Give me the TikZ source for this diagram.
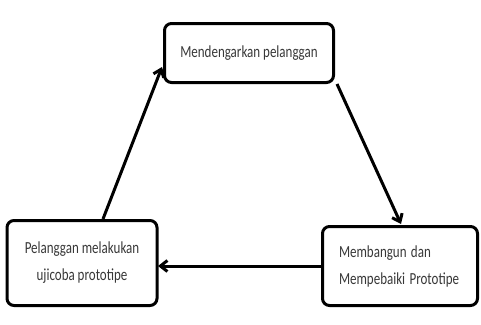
\documentclass[tikz,border=0pt]{standalone}
\usepackage{fontspec}
\setmainfont{Carlito}
\usetikzlibrary{arrows.meta}
\newcommand{\tinggi}[1]{\scalebox{1}[1.3]{#1}}
\begin{document}
\begin{tikzpicture}[x=1pt, y=-1pt, >={Straight Barb[length=7pt, width=11pt]}]
            % 画布
            \useasboundingbox (0,0) rectangle (481,324);
            \tikzset{kotak/.style={draw, line width=3pt, rounded corners=7pt, fill=white, text=black!78, font=\fontsize{13}{27}\selectfont}}

            % 三个框
            \node[kotak, minimum width=169pt, minimum height=59pt] (dengar) at (249,53) {\tinggi{Mendengarkan pelanggan}};
            \node[kotak, minimum width=150pt, minimum height=85pt, align=center] (uji) at (82,263) {\tinggi{Pelanggan melakukan}\\\tinggi{ujicoba prototipe}};
            \node[kotak, minimum width=155pt, minimum height=79pt, align=left, text width=122pt] (bangun) at (400,266) {\tinggi{Membangun dan}\\\tinggi{Mempebaiki Prototipe}};

            % 箭头
            \coordinate (a1) at (103,219);
            \coordinate (a2) at (162,67);
            \coordinate (b1) at (337,84);
            \coordinate (b2) at (401,224);
            \coordinate (c1) at (321,266);
            \coordinate (c2) at (158,266);
            \draw[->, line width=3pt] (a1) -- (a2);
            \draw[->, line width=3pt] (b1) -- (b2);
            \draw[->, line width=3pt] (c1) -- (c2);
\end{tikzpicture}
\end{document}
